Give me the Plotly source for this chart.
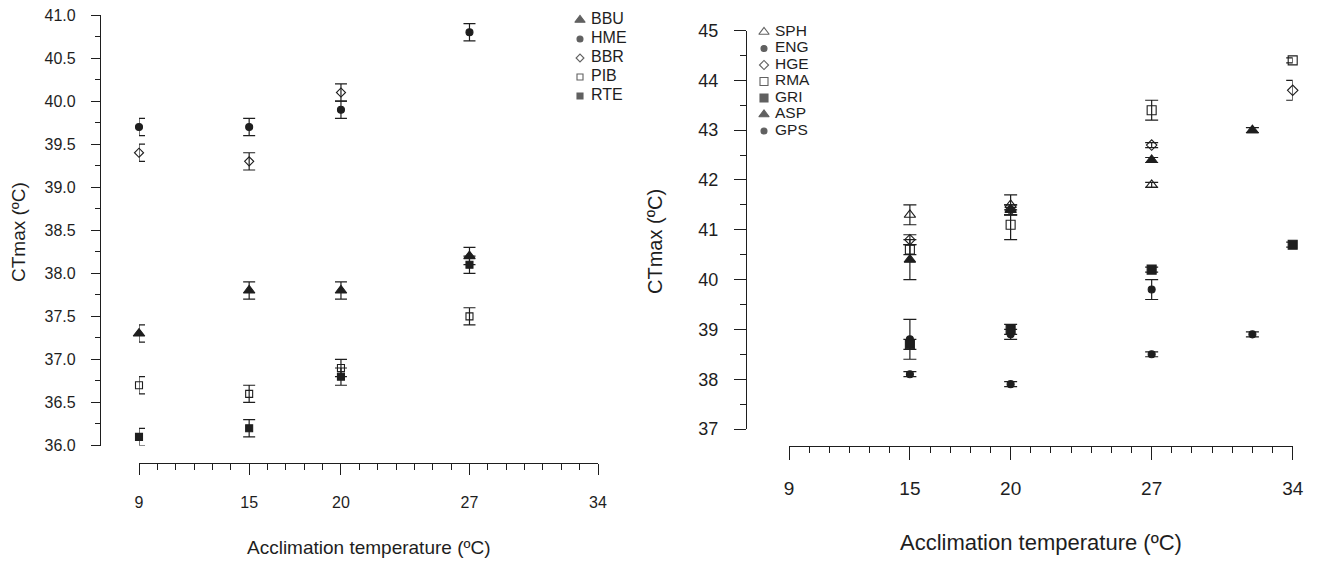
import plotly.graph_objects as go

W, H = 1320, 561
INK = "#1e1e1e"
FONT = "Liberation Sans, Arial, sans-serif"

# ---------------- Left panel data (CTmax mean ± error) ----------------
left_species = ["BBU", "HME", "BBR", "PIB", "RTE"]
left_symbols = ["triangle-up", "circle", "diamond-open", "square-open", "square"]
left_sizes = [10, 7, 7, 7, 7]

bbu_x = [9, 15, 20, 27]
bbu_y = [37.3, 37.8, 37.8, 38.2]
bbu_err = [0.1, 0.1, 0.1, 0.1]

hme_x = [9, 15, 20, 27]
hme_y = [39.7, 39.7, 39.9, 40.8]
hme_err = [0.1, 0.1, 0.1, 0.1]

bbr_x = [9, 15, 20]
bbr_y = [39.4, 39.3, 40.1]
bbr_err = [0.1, 0.1, 0.1]

pib_x = [9, 15, 20, 27]
pib_y = [36.7, 36.6, 36.9, 37.5]
pib_err = [0.1, 0.1, 0.1, 0.1]

rte_x = [9, 15, 20, 27]
rte_y = [36.1, 36.2, 36.8, 38.1]
rte_err = [0.1, 0.1, 0.1, 0.1]

left_data = [
    (bbu_x, bbu_y, bbu_err),
    (hme_x, hme_y, hme_err),
    (bbr_x, bbr_y, bbr_err),
    (pib_x, pib_y, pib_err),
    (rte_x, rte_y, rte_err),
]

# ---------------- Right panel data ----------------
right_species = ["SPH", "ENG", "HGE", "RMA", "GRI", "ASP", "GPS"]
right_symbols = ["triangle-up-open", "circle", "diamond-open", "square-open",
                 "square", "triangle-up", "circle"]
right_sizes = [10, 7, 8, 9, 9, 10, 7]

sph_x = [15, 20, 27]
sph_y = [41.3, 41.5, 41.9]
sph_err = [0.2, 0.2, 0.05]

eng_x = [15, 20, 27]
eng_y = [38.8, 38.9, 39.8]
eng_err = [0.4, 0.1, 0.2]

hge_x = [15, 20, 27, 34]
hge_y = [40.8, 41.4, 42.7, 43.8]
hge_err = [0.1, 0.1, 0.05, 0.2]

rma_x = [15, 20, 27, 34]
rma_y = [40.6, 41.1, 43.4, 44.4]
rma_err = [0.1, 0.3, 0.2, 0.05]

gri_x = [15, 20, 27, 34]
gri_y = [38.7, 39.0, 40.2, 40.7]
gri_err = [0.1, 0.1, 0.05, 0.05]

asp_x = [15, 20, 27, 32]
asp_y = [40.4, 41.4, 42.4, 43.0]
asp_err = [0.4, 0.1, 0.05, 0.05]

gps_x = [15, 20, 27, 32]
gps_y = [38.1, 37.9, 38.5, 38.9]
gps_err = [0.05, 0.05, 0.05, 0.05]

right_data = [
    (sph_x, sph_y, sph_err),
    (eng_x, eng_y, eng_err),
    (hge_x, hge_y, hge_err),
    (rma_x, rma_y, rma_err),
    (gri_x, gri_y, gri_err),
    (asp_x, asp_y, asp_err),
    (gps_x, gps_y, gps_err),
]

x_ticks = [9, 15, 20, 27, 34]
left_y_ticks = [36.0, 36.5, 37.0, 37.5, 38.0, 38.5, 39.0, 39.5, 40.0, 40.5, 41.0]
right_y_ticks = [37, 38, 39, 40, 41, 42, 43, 44, 45]


def marker_style(symbol, size):
    return dict(symbol=symbol, size=size, color=INK,
                line=dict(color=INK, width=1.1))


fig = go.Figure()


def add_panel(data, names, symbols, sizes, xa, ya, capw):
    for (xs, ys, es), name, sym, sz in zip(data, names, symbols, sizes):
        fig.add_trace(go.Scatter(
            x=xs, y=ys, name=name, mode="markers", xaxis=xa, yaxis=ya,
            marker=marker_style(sym, sz), cliponaxis=False, showlegend=False,
            error_y=dict(type="data", array=es, visible=True, color=INK,
                         thickness=1.2, width=capw),
        ))


add_panel(left_data, left_species, left_symbols, left_sizes, "x", "y", 6)
add_panel(right_data, right_species, right_symbols, right_sizes, "x2", "y2", 6.5)


def add_key(names, symbols, sizes, xa, ya, fsize):
    idx = list(range(len(names)))
    fig.add_trace(go.Scatter(
        x=[10] * len(names), y=idx, mode="markers", xaxis=xa, yaxis=ya,
        marker=dict(symbol=symbols, size=[s - 1 for s in sizes], color=INK,
                    line=dict(color=INK, width=1.1)),
        showlegend=False, hoverinfo="skip", cliponaxis=False,
    ))
    fig.add_trace(go.Scatter(
        x=[21] * len(names), y=idx, mode="text", text=names, xaxis=xa, yaxis=ya,
        textposition="middle right", textfont=dict(size=fsize, color=INK, family=FONT),
        showlegend=False, hoverinfo="skip", cliponaxis=False,
    ))


add_key(left_species, left_symbols, left_sizes, "x3", "y3", 16)
add_key(right_species, right_symbols, right_sizes, "x4", "y4", 15.5)


def px_x(p):
    return p / W


def px_y(p):
    return 1 - p / H


common = dict(showgrid=False, zeroline=False, showline=True, linecolor=INK,
              linewidth=1.2, ticks="outside", tickcolor=INK, tickwidth=1.2,
              anchor="free", automargin=False)

fig.update_layout(
    width=W, height=H,
    margin=dict(l=0, r=0, t=0, b=0, pad=0, autoexpand=False),
    paper_bgcolor="white", plot_bgcolor="white",
    font=dict(family=FONT, color=INK),
    xaxis=dict(**common, domain=[px_x(139), px_x(598)], range=[9, 34],
               tickvals=x_ticks, ticklen=11, position=px_y(463),
               tickfont=dict(size=16), ticklabelstandoff=14,
               minor=dict(tick0=9, dtick=1, ticks="outside", ticklen=6,
                          tickwidth=1, tickcolor=INK)),
    yaxis=dict(**common, domain=[px_y(445.5), px_y(15)], range=[36, 41],
               tickvals=left_y_ticks, tickformat=".1f", ticklen=9,
               position=px_x(100), tickfont=dict(size=16), ticklabelstandoff=12,
               minor=dict(tick0=36, dtick=0.25, ticks="outside", ticklen=5,
                          tickwidth=1, tickcolor=INK)),
    xaxis2=dict(**common, domain=[px_x(789), px_x(1292.7)], range=[9, 34],
                tickvals=x_ticks, ticklen=13, position=px_y(446),
                tickfont=dict(size=19), ticklabelstandoff=12,
                minor=dict(tick0=9, dtick=1, ticks="outside", ticklen=6,
                           tickwidth=1, tickcolor=INK)),
    yaxis2=dict(**common, domain=[px_y(429), px_y(30.5)], range=[37, 45],
                tickvals=right_y_ticks, ticklen=12, position=px_x(746),
                tickfont=dict(size=18), ticklabelstandoff=12,
                minor=dict(tick0=37, dtick=0.5, ticks="outside", ticklen=6,
                           tickwidth=1, tickcolor=INK)),
    # key (legend) axes: one unit = one pixel horizontally, one row per species
    xaxis3=dict(visible=False, domain=[px_x(570), px_x(610)], range=[0, 40],
                anchor="y3"),
    yaxis3=dict(visible=False, domain=[px_y(105.5), px_y(10.5)],
                range=[4.5, -0.5], anchor="x3"),
    xaxis4=dict(visible=False, domain=[px_x(754), px_x(794)], range=[0, 40],
                anchor="y4"),
    yaxis4=dict(visible=False, domain=[px_y(139.25), px_y(23.75)],
                range=[6.5, -0.5], anchor="x4"),
    annotations=[
        dict(text="Acclimation temperature (ºC)", xref="paper", yref="paper",
             x=px_x(368.5), y=px_y(547), xanchor="center", yanchor="middle",
             showarrow=False, font=dict(size=19, color=INK)),
        dict(text="CTmax (ºC)", xref="paper", yref="paper",
             x=px_x(18), y=px_y(232), xanchor="center", yanchor="middle",
             textangle=-90, showarrow=False, font=dict(size=19, color=INK)),
        dict(text="Acclimation temperature (ºC)", xref="paper", yref="paper",
             x=px_x(1041), y=px_y(542), xanchor="center", yanchor="middle",
             showarrow=False, font=dict(size=22, color=INK)),
        dict(text="CTmax (ºC)", xref="paper", yref="paper",
             x=px_x(655), y=px_y(242), xanchor="center", yanchor="middle",
             textangle=-90, showarrow=False, font=dict(size=20, color=INK)),
    ],
)

fig.write_html("out.html")
